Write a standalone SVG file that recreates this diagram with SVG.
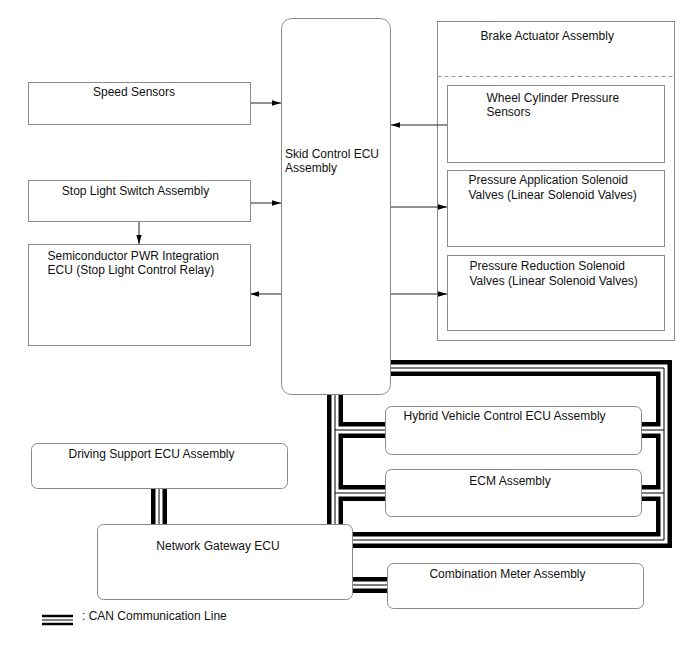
<svg xmlns="http://www.w3.org/2000/svg" width="688" height="658" viewBox="0 0 688 658">
<style>
.box{fill:#fff;stroke:#8a8a8a;stroke-width:1}
.frame{fill:none;stroke:#8a8a8a;stroke-width:1}
.t{font-family:"Liberation Sans",Arial,sans-serif;font-size:12px;fill:#111}
.c{text-anchor:middle}
.arr{stroke:#222;stroke-width:1;fill:none}
.canB{fill:none;stroke:#000;stroke-width:16;stroke-linejoin:miter}
.canW{fill:none;stroke:#fff;stroke-width:7;stroke-linejoin:miter}
.canT{fill:none;stroke:#000;stroke-width:1;stroke-linejoin:miter}
</style>
<defs>
<marker id="ah" viewBox="0 0 10 6" refX="10" refY="3" markerWidth="9" markerHeight="5.5" markerUnits="userSpaceOnUse" orient="auto">
<path d="M0,0 L10,3 L0,6 Z" fill="#000"/>
</marker>
</defs>
<rect width="688" height="658" fill="#fff"/>

<g id="brake-actuator">
<rect class="frame" x="437.5" y="21.5" width="237" height="319"/>
<text class="t" x="480.5" y="39.5">Brake Actuator Assembly</text>
<line x1="437.5" y1="76.5" x2="674.5" y2="76.5" stroke="#999" stroke-width="1" stroke-dasharray="4 3"/>
</g>

<g id="connectors">
<g id="can-bus">
<path class="canB" d="M391 368 H664 V540 H353 M335 395 V524 M335 430 H385 M335 493 H385 M664 430 H642 M664 493 H642 M159 488 V524 M353 585 H387"/>
<path class="canW" d="M391 368 H664 V540 H353 M335 395 V524 M335 430 H385 M335 493 H385 M664 430 H642 M664 493 H642 M159 488 V524 M353 585 H387"/>
<path class="canT" d="M391 368 H664 V540 H353 M335 395 V524 M335 430 H385 M335 493 H385 M664 430 H642 M664 493 H642 M159 488 V524 M353 585 H387"/>
</g>
<path class="arr" d="M250 103 H281" marker-end="url(#ah)"/>
<path class="arr" d="M250 203 H281" marker-end="url(#ah)"/>
<path class="arr" d="M139 221 V244" marker-end="url(#ah)"/>
<path class="arr" d="M281 294 H250" marker-end="url(#ah)"/>
<path class="arr" d="M447 125 H391" marker-end="url(#ah)"/>
<path class="arr" d="M391 207 H447" marker-end="url(#ah)"/>
<path class="arr" d="M391 294 H447" marker-end="url(#ah)"/>
</g>

<g id="speed-sensors">
<rect class="box" x="28.5" y="82.5" width="222" height="42"/>
<text class="t c" x="134" y="95.5">Speed Sensors</text>
</g>

<g id="skid-control-ecu">
<rect class="box" x="281.5" y="18.5" width="109" height="376" rx="10"/>
<text class="t" x="285" y="157.5">Skid Control ECU</text>
<text class="t" x="285" y="171.5">Assembly</text>
</g>

<g id="stop-light-switch">
<rect class="box" x="28.5" y="180.5" width="222" height="41"/>
<text class="t c" x="135.5" y="195">Stop Light Switch Assembly</text>
</g>

<g id="semiconductor-pwr">
<rect class="box" x="28.5" y="244.5" width="222" height="101"/>
<text class="t" x="47.5" y="259.5">Semiconductor PWR Integration</text>
<text class="t" x="47.5" y="274">ECU (Stop Light Control Relay)</text>
</g>

<g id="wheel-cylinder-sensors">
<rect class="box" x="447.5" y="85.5" width="217" height="77"/>
<text class="t" x="486.5" y="102">Wheel Cylinder Pressure</text>
<text class="t" x="486.5" y="116">Sensors</text>
</g>

<g id="pressure-application">
<rect class="box" x="447.5" y="170.5" width="217" height="76"/>
<text class="t" x="468.5" y="184">Pressure Application Solenoid</text>
<text class="t" x="468.5" y="198.5">Valves (Linear Solenoid Valves)</text>
</g>

<g id="pressure-reduction">
<rect class="box" x="447.5" y="255.5" width="217" height="75"/>
<text class="t" x="469.5" y="270">Pressure Reduction Solenoid</text>
<text class="t" x="469.5" y="284.5">Valves (Linear Solenoid Valves)</text>
</g>

<g id="hv-control-ecu">
<rect class="box" x="385.5" y="406.5" width="256" height="48" rx="6"/>
<text class="t" x="403.5" y="420">Hybrid Vehicle Control ECU Assembly</text>
</g>

<g id="ecm">
<rect class="box" x="385.5" y="469.5" width="256" height="47" rx="6"/>
<text class="t c" x="510" y="485">ECM Assembly</text>
</g>

<g id="driving-support-ecu">
<rect class="box" x="31.5" y="443.5" width="256" height="45" rx="6"/>
<text class="t c" x="151.5" y="458">Driving Support ECU Assembly</text>
</g>

<g id="network-gateway-ecu">
<rect class="box" x="97.5" y="524.5" width="255" height="75" rx="6"/>
<text class="t c" x="218" y="550">Network Gateway ECU</text>
</g>

<g id="combination-meter">
<rect class="box" x="387.5" y="563.5" width="256" height="45" rx="6"/>
<text class="t c" x="507.5" y="578">Combination Meter Assembly</text>
</g>

<g id="legend">
<line x1="42" y1="616" x2="73" y2="616" stroke="#000" stroke-width="2.5"/>
<line x1="42" y1="620" x2="73" y2="620" stroke="#000" stroke-width="1"/>
<line x1="42" y1="624" x2="73" y2="624" stroke="#000" stroke-width="2.5"/>
<text class="t" x="82" y="620">: CAN Communication Line</text>
</g>
</svg>
